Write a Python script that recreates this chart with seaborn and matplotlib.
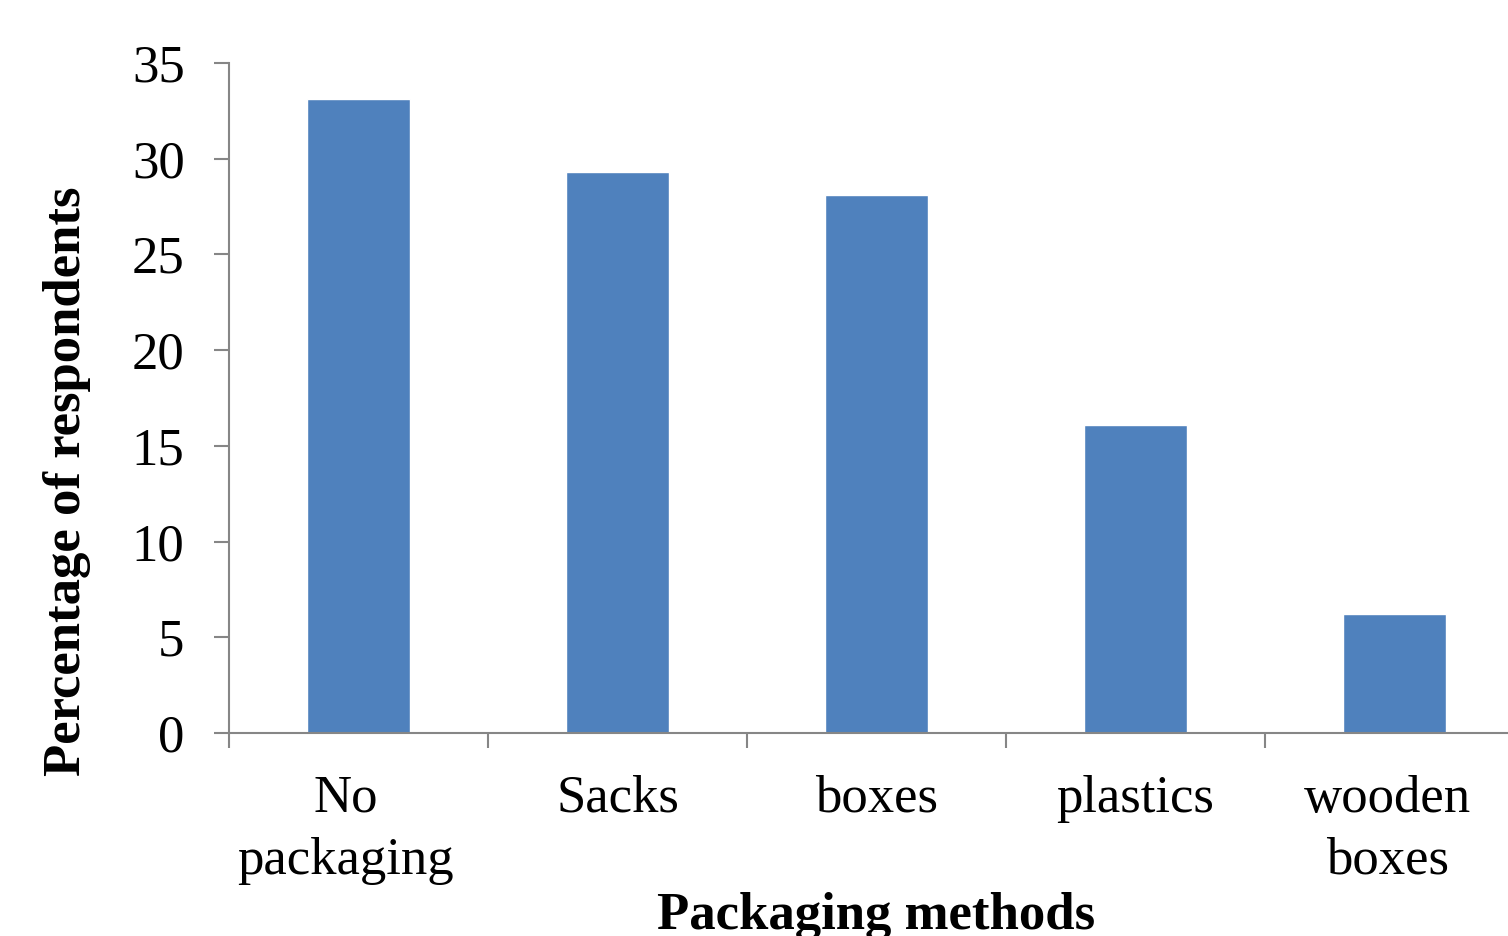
#!/usr/bin/env python3

# Packaging methods bar chart
import matplotlib
matplotlib.use('Agg')
import matplotlib.pyplot as plt
import matplotlib.ticker as ticker
import matplotlib.transforms as transforms
import numpy as np
import seaborn as sb

# Chart data
categories = ['No\npackaging', 'Sacks', 'boxes', 'plastics', 'wooden\nboxes']
percentages = [33.1, 29.3, 28.1, 16.1, 6.2]
yticks = [0, 5, 10, 15, 20, 25, 30, 35]


def main():
    sb.set_style('white')
    plt.rcParams['font.family'] = ['Liberation Serif', 'DejaVu Serif']
    plt.rcParams['text.color'] = 'black'
    plt.rcParams['axes.labelcolor'] = 'black'
    plt.rcParams['xtick.labelcolor'] = 'black'
    plt.rcParams['ytick.labelcolor'] = 'black'

    figure = plt.figure(figsize=(15.08, 9.36), dpi=100)
    # The axis runs off the right edge in the reference
    axis = figure.add_axes([0.1519, 0.2169, 0.8587, 0.7158])

    sb.barplot(x=categories, y=percentages, color='#4F81BD', width=0.4,
               saturation=1, ax=axis)

    # Format the axes
    axis.set_ylim(0, 35)
    axis.set_yticks(yticks)
    axis.set_xlim(-0.5, len(categories) - 0.5)
    sb.despine(ax=axis, top=True, right=True)
    for side in ['left', 'bottom']:
        axis.spines[side].set_color('#868686')
        axis.spines[side].set_linewidth(1.5)

    # Category ticks sit between the bars, labels at the centres
    axis.xaxis.set_minor_locator(ticker.FixedLocator(np.arange(-0.5, len(categories), 1)))
    axis.tick_params(axis='x', which='major', length=0, pad=30, labelsize=38)
    axis.tick_params(axis='x', which='minor', length=11, width=1.5, color='#868686', bottom=True)
    axis.tick_params(axis='y', which='major', length=11, width=1.5, color='#868686',
                     left=True, pad=21, labelsize=38)

    # Nudge the wrapped labels the way the original renderer did
    shifts = [-13, 0, 0, 0, -7]
    for label, shift in zip(axis.get_xticklabels(), shifts):
        label.set_linespacing(1.38)
        offset = transforms.ScaledTranslation(shift / 100, 0, figure.dpi_scale_trans)
        label.set_transform(label.get_transform() + offset)

    axis.set_xlabel('Packaging methods', fontsize=38, fontweight='bold')
    axis.set_ylabel('Percentage of respondents', fontsize=38, fontweight='bold')
    axis.xaxis.set_label_coords(0.5, -0.237)
    axis.yaxis.set_label_coords(-0.107, 0.376)

    plt.savefig('out.png', dpi=100)
    plt.close()


if __name__ == '__main__':
    main()
